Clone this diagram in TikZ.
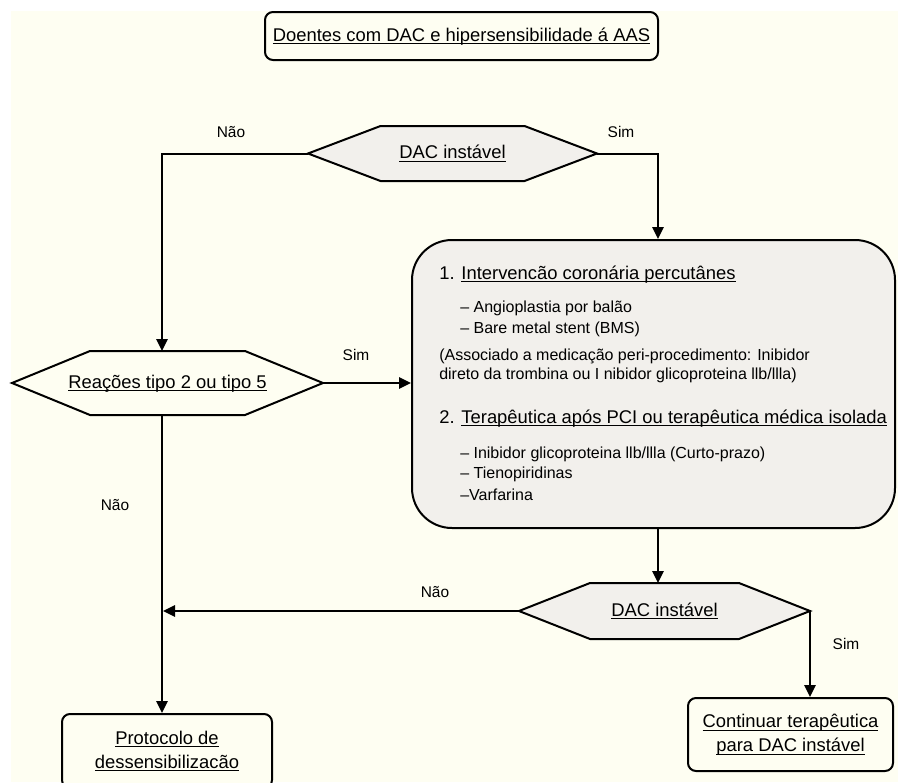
\documentclass[tikz,border=0pt]{standalone}
\usepackage{fontspec}
\setmainfont{Liberation Sans}
\newcommand{\ulx}[1]{\leavevmode\setbox0=\hbox{#1}\rlap{\rule[-2.5pt]{\wd0}{0.7pt}}\box0}
\usetikzlibrary{arrows.meta}
\definecolor{cream}{HTML}{FEFEF2}
\definecolor{boxgray}{HTML}{F2F0EC}
\begin{document}
\begin{tikzpicture}[x=0.75pt,y=-0.75pt,
  every node/.style={inner sep=0pt},
  bw/.style={line width=1.5pt},
  arr/.style={bw,-{Triangle[length=9pt,width=8.5pt]}},
  hexline/.style={bw,line join=miter},
  bigfont/.style={font=\fontsize{13.8}{18}\selectfont},
  bodyfont/.style={font=\fontsize{12}{14}\selectfont},
  labfont/.style={font=\fontsize{11.6}{14}\selectfont},
  onebox/.style={draw,bw,rounded corners=6pt,fill=cream,bigfont,text height=10pt,text depth=2.5pt},
  twobox/.style={draw,bw,rounded corners=6pt,fill=cream,bigfont,align=center},
  hextext/.style={bigfont,text height=10pt,text depth=2.5pt},
  bigtext/.style={bigfont,anchor=base west},
  bodytext/.style={bodyfont,anchor=base west}
]
\useasboundingbox (0,0) rectangle (898,782);
\fill[white] (0,0) rectangle (898,782);
\fill[cream] (11,11) rectangle (898,782);

% top box
\node[onebox,minimum width=294.75pt,minimum height=36pt] (top) at (461.5,36) {\ulx{Doentes com DAC e hipersensibilidade á AAS}};

% hexagon 1
\coordinate (h1w) at (308,153.5);
\coordinate (h1e) at (597,153.5);
\draw[hexline,fill=boxgray] (h1w) -- (380.5,126) -- (524.5,126) -- (h1e) -- (524.5,181) -- (380.5,181) -- cycle;
\node[hextext] (h1) at (452.5,153.5) {\ulx{DAC instável}};

% big box
\node[draw,bw,fill=boxgray,rounded corners=30pt,minimum width=362.25pt,minimum height=216pt] (big) at (653.5,384) {};
\node[bigtext] (t1) at (439,279) {1. \ulx{Intervencão coronária percutânes}};
\node[bodytext] (t2) at (460,312) {– Angioplastia por balão};
\node[bodytext] (t3) at (460,333) {– Bare metal stent (BMS)};
\node[bodytext] (t4) at (439,360) {(Associado a medicação peri-procedimento: Inibidor};
\node[bodytext] (t5) at (439,379) {direto da trombina ou I nibidor glicoproteina llb/llla)};
\node[bigtext] (t6) at (439,423) {2. \ulx{Terapêutica após PCI ou terapêutica médica isolada}};
\node[bodytext] (t7) at (460,458) {– Inibidor glicoproteina llb/llla (Curto-prazo)};
\node[bodytext] (t8) at (460,478) {– Tienopiridinas};
\node[bodytext] (t9) at (460,500) {–Varfarina};

% hexagon 3
\coordinate (h3w) at (12,383);
\coordinate (h3e) at (323,383);
\coordinate (h3n) at (162,351);
\coordinate (h3s) at (162,415);
\draw[hexline,fill=cream] (h3w) -- (90,351) -- (245,351) -- (h3e) -- (245,415) -- (90,415) -- cycle;
\node[hextext] (h3) at (167.5,383) {\ulx{Reações tipo 2 ou tipo 5}};

% hexagon 2
\coordinate (h2w) at (519,611);
\coordinate (h2e) at (810,611);
\coordinate (h2n) at (658,583);
\draw[hexline,fill=boxgray] (h2w) -- (590,583) -- (739,583) -- (h2e) -- (739,639) -- (590,639) -- cycle;
\node[hextext] (h2) at (664.5,611) {\ulx{DAC instável}};

% end boxes
\node[twobox,minimum width=157.5pt,minimum height=55.5pt] (prot) at (167,751) {\ulx{Protocolo de}\\\ulx{dessensibilizacão}};
\node[twobox,minimum width=153.75pt,minimum height=54.75pt] (cont) at (790.5,734.5) {\ulx{Continuar terapêutica}\\\ulx{para DAC instável}};

% connectors
\draw[arr] (h1w) -| (h3n);
\draw[arr] (h1e) -| (h2n |- big.north);
\draw[arr] (h3e) -- (h3e -| big.west);
\draw[arr] (h3s) -- (h3s |- prot.north);
\draw[arr] (h2n |- big.south) -- (h2n);
\draw[arr,shorten >=0.75pt] (h2w) -- (h2w -| h3s);
\draw[arr] (h2e) -- (h2e |- cont.north);

% labels
\node[labfont] (l1) at (231,132) {Não};
\node[labfont] (l2) at (621,132) {Sim};
\node[labfont] (l3) at (356,355) {Sim};
\node[labfont] (l4) at (115,505) {Não};
\node[labfont] (l5) at (435,592) {Não};
\node[labfont] (l6) at (846,644) {Sim};
\end{tikzpicture}
\end{document}
